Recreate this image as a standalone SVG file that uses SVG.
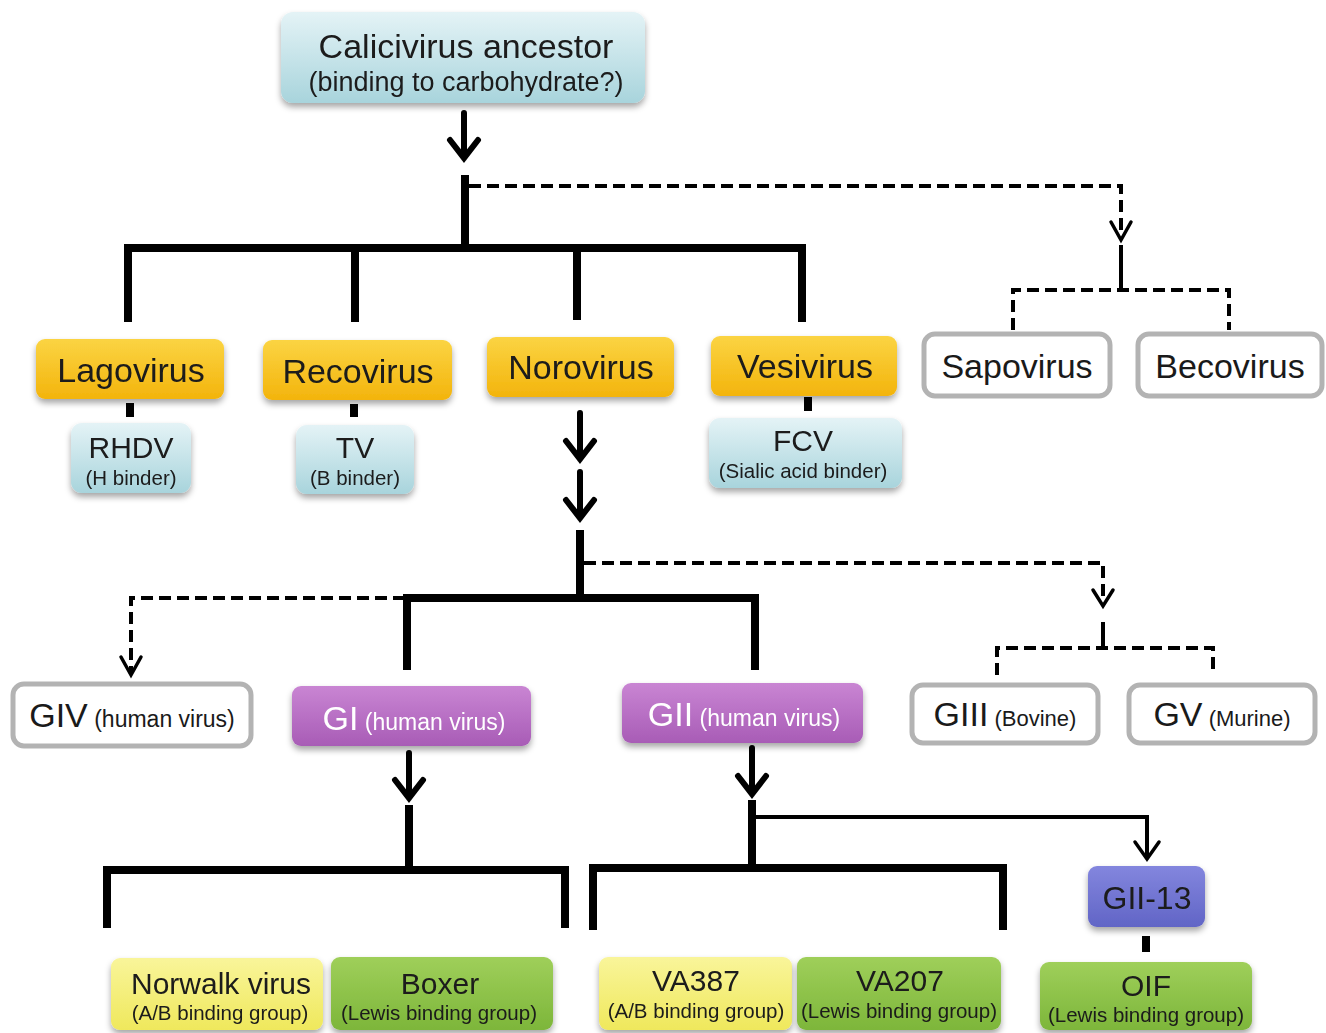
<svg xmlns="http://www.w3.org/2000/svg" width="1326" height="1033" viewBox="0 0 1326 1033">
<defs>
<linearGradient id="gBlue" x1="0" y1="0" x2="0" y2="1"><stop offset="0" stop-color="#e4f3f6"/><stop offset="1" stop-color="#a8d4dc"/></linearGradient>
<linearGradient id="gGold" x1="0" y1="0" x2="0" y2="1"><stop offset="0" stop-color="#fbd443"/><stop offset="1" stop-color="#f3b40c"/></linearGradient>
<linearGradient id="gPurple" x1="0" y1="0" x2="0" y2="1"><stop offset="0" stop-color="#c985d3"/><stop offset="1" stop-color="#a85cb6"/></linearGradient>
<linearGradient id="gYellow" x1="0" y1="0" x2="0" y2="1"><stop offset="0" stop-color="#f9f59a"/><stop offset="1" stop-color="#efe85c"/></linearGradient>
<linearGradient id="gGreen" x1="0" y1="0" x2="0" y2="1"><stop offset="0" stop-color="#9fcf5a"/><stop offset="1" stop-color="#7db63a"/></linearGradient>
<linearGradient id="gIndigo" x1="0" y1="0" x2="0" y2="1"><stop offset="0" stop-color="#8386de"/><stop offset="1" stop-color="#6165c6"/></linearGradient>
<filter id="sh" x="-10%" y="-10%" width="120%" height="140%"><feDropShadow dx="0" dy="4" stdDeviation="3" flood-color="#000" flood-opacity="0.35"/></filter>
</defs>
<style>
text{font-family:"Liberation Sans",Arial,sans-serif;fill:#1a1a1a;text-anchor:middle}
.big{font-size:34px}
.mid{font-size:30px}
.sm{font-size:20.5px}
.grey{fill:#fff;stroke:#b3b3b3;stroke-width:5}
.solid{fill:none;stroke:#000;stroke-width:8;stroke-linecap:butt;stroke-linejoin:miter}
.arr{fill:none;stroke:#000;stroke-width:6;stroke-linecap:round;stroke-linejoin:miter}
.dash{fill:none;stroke:#000;stroke-width:4;stroke-dasharray:12 6}
.thin{fill:none;stroke:#000;stroke-width:4}
.thinarr{fill:none;stroke:#000;stroke-width:3.5;stroke-linecap:round}
.w{fill:#fff}
</style>

<g id="connectors">
<path class="arr" d="M464 113 V158 M450 140 L464 158 L478 140"/>
<path class="solid" d="M465 175 V248 M128 322 V248 H802 V322 M355 248 V322 M577 248 V320"/>
<path class="dash" d="M469 186 H1121 V236"/>
<path class="thinarr" d="M1111 222 L1121 240 L1131 222"/>
<path class="thin" d="M1121 245 V290"/>
<path class="dash" d="M1013 330 V290 H1229 V330"/>
<path class="solid" d="M130 403 V417 M354 404 V417 M808 397 V411"/>
<path class="arr" d="M580 413 V459 M566 441 L580 459 L594 441"/>
<path class="arr" d="M580 472 V518 M566 500 L580 518 L594 500"/>
<path class="solid" d="M580 530 V598 M407 670 V598 H755 V670"/>
<path class="dash" d="M584 563 H1103 V600"/>
<path class="thinarr" d="M1093 590 L1103 606 L1113 590"/>
<path class="thin" d="M1103 622 V648"/>
<path class="dash" d="M997 675 V648 H1213 V675"/>
<path class="dash" d="M441 598 H131 V672"/>
<path class="thinarr" d="M121 657 L131 675 L141 657"/>
<path class="arr" d="M409 753 V798 M395 780 L409 798 L423 780"/>
<path class="solid" d="M409 805 V870 M107 928 V870 H565 V928"/>
<path class="arr" d="M752 748 V794 M738 776 L752 794 L766 776"/>
<path class="solid" d="M752 800 V868 M593 930 V868 H1003 V930"/>
<path class="thin" d="M752 817 H1147 V857"/>
<path class="thinarr" d="M1135 842 L1147 859 L1159 842"/>
<path class="solid" d="M1146 936 V952"/>
</g>

<g id="n-ancestor" filter="url(#sh)"><rect x="281" y="12" width="364" height="91" rx="12" fill="url(#gBlue)"/>
<text x="466" y="58" style="font-size:34px">Calicivirus ancestor</text><text x="466" y="91" style="font-size:27px">(binding to carbohydrate?)</text></g>

<g id="n-lago" filter="url(#sh)"><rect x="36" y="339" width="188" height="60" rx="9" fill="url(#gGold)"/><text class="big" x="131" y="382">Lagovirus</text></g>
<g id="n-reco" filter="url(#sh)"><rect x="263" y="340" width="189" height="60" rx="9" fill="url(#gGold)"/><text class="big" x="358" y="383">Recovirus</text></g>
<g id="n-noro" filter="url(#sh)"><rect x="487" y="337" width="187" height="60" rx="9" fill="url(#gGold)"/><text class="big" x="581" y="379">Norovirus</text></g>
<g id="n-vesi" filter="url(#sh)"><rect x="711" y="336" width="186" height="60" rx="9" fill="url(#gGold)"/><text class="big" x="805" y="378">Vesivirus</text></g>
<g id="n-sapo"><rect class="grey" x="924" y="334" width="186" height="62" rx="11"/><text class="big" x="1017" y="378">Sapovirus</text></g>
<g id="n-beco"><rect class="grey" x="1138" y="334" width="184" height="62" rx="11"/><text class="big" x="1230" y="378">Becovirus</text></g>

<g id="n-rhdv" filter="url(#sh)"><rect x="71" y="423" width="120" height="70" rx="11" fill="url(#gBlue)"/><text class="mid" x="131" y="458">RHDV</text><text class="sm" x="131" y="485">(H binder)</text></g>
<g id="n-tv" filter="url(#sh)"><rect x="296" y="425" width="118" height="69" rx="11" fill="url(#gBlue)"/><text class="mid" x="355" y="458">TV</text><text class="sm" x="355" y="485">(B binder)</text></g>
<g id="n-fcv" filter="url(#sh)"><rect x="709" y="418" width="193" height="70" rx="11" fill="url(#gBlue)"/><text class="mid" x="803" y="451">FCV</text><text class="sm" x="803" y="478">(Sialic acid binder)</text></g>

<g id="n-giv"><rect class="grey" x="13" y="684" width="238" height="62" rx="11"/><text x="132" y="727"><tspan style="font-size:34px">GIV</tspan><tspan style="font-size:23px"> (human virus)</tspan></text></g>
<g id="n-gi" filter="url(#sh)"><rect x="292" y="686" width="239" height="60" rx="9" fill="url(#gPurple)"/><text class="w" x="414" y="730"><tspan class="w" style="font-size:34px">GI</tspan><tspan class="w" style="font-size:23px"> (human virus)</tspan></text></g>
<g id="n-gii" filter="url(#sh)"><rect x="622" y="683" width="241" height="60" rx="9" fill="url(#gPurple)"/><text class="w" x="744" y="726"><tspan class="w" style="font-size:34px">GII</tspan><tspan class="w" style="font-size:23px"> (human virus)</tspan></text></g>
<g id="n-giii"><rect class="grey" x="912" y="685" width="186" height="58" rx="11"/><text x="1005" y="726"><tspan style="font-size:34px">GIII</tspan><tspan style="font-size:22px"> (Bovine)</tspan></text></g>
<g id="n-gv"><rect class="grey" x="1129" y="685" width="186" height="58" rx="11"/><text x="1222" y="726"><tspan style="font-size:34px">GV</tspan><tspan style="font-size:22px"> (Murine)</tspan></text></g>

<g id="n-gii13" filter="url(#sh)"><rect x="1088" y="866" width="117" height="61" rx="9" fill="url(#gIndigo)"/><text x="1147" y="909" style="font-size:32px">GII-13</text></g>

<g id="n-norwalk" filter="url(#sh)"><rect x="111" y="958" width="212" height="72" rx="9" fill="url(#gYellow)"/><text class="mid" x="221" y="994">Norwalk virus</text><text class="sm" x="220" y="1020">(A/B binding group)</text></g>
<g id="n-boxer" filter="url(#sh)"><rect x="331" y="957" width="222" height="73" rx="9" fill="url(#gGreen)"/><text class="mid" x="440" y="994">Boxer</text><text class="sm" x="439" y="1020">(Lewis binding group)</text></g>
<g id="n-va387" filter="url(#sh)"><rect x="599" y="957" width="193" height="73" rx="9" fill="url(#gYellow)"/><text class="mid" x="696" y="991">VA387</text><text class="sm" x="696" y="1018">(A/B binding group)</text></g>
<g id="n-va207" filter="url(#sh)"><rect x="797" y="957" width="204" height="73" rx="9" fill="url(#gGreen)"/><text class="mid" x="900" y="991">VA207</text><text class="sm" x="899" y="1018">(Lewis binding group)</text></g>
<g id="n-oif" filter="url(#sh)"><rect x="1040" y="962" width="212" height="68" rx="9" fill="url(#gGreen)"/><text class="mid" x="1146" y="996">OIF</text><text class="sm" x="1146" y="1022">(Lewis binding group)</text></g>
</svg>
